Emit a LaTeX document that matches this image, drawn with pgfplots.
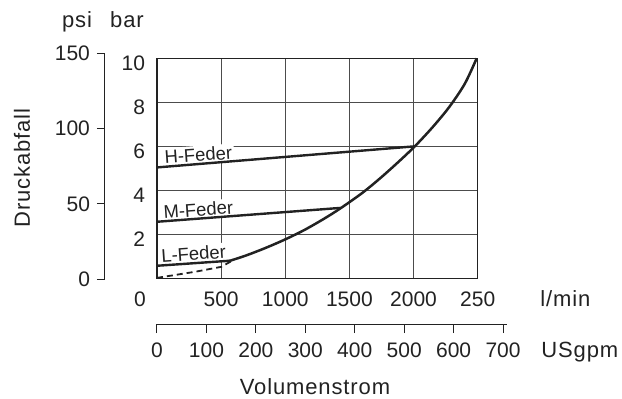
\documentclass[border=0pt]{standalone}
\usepackage{fontspec}
\setmainfont{Liberation Sans}
\newfontfamily\wide{Liberation Sans}[LetterSpace=4]
\usepackage{pgfplots}
\pgfplotsset{compat=1.18}

\definecolor{ink}{HTML}{222222}
\newcommand{\lbl}{\fontsize{10.5}{12}\selectfont}
\newcommand{\txt}{\fontsize{11}{13}\selectfont}
\newcommand{\cvlbl}{\fontsize{9.2}{11}\selectfont}

\pgfplotsset{
  every tick label/.append style={font=\lbl, text=ink},
  /pgf/number format/assume math mode=true,
  /pgf/number format/1000 sep={},
}

\begin{document}
\begin{tikzpicture}[font=\lbl]
\path[use as bounding box] (0,0) rectangle (311pt,-199pt);

% psi scale
\begin{axis}[
  at={(52.5pt,-139.65pt)}, anchor=south west,
  scale only axis, width=10pt, height=113.15pt,
  axis y line=left, axis x line=none,
  xmin=0, xmax=1, ymin=0, ymax=150,
  ytick={0,50,100,150},
  tick align=outside, major tick length=4pt,
  tick style={line width=0.5pt, ink},
  axis line style={-, line width=0.5pt, ink},
]
\end{axis}

% main chart, bar over l/min
\begin{axis}[
  at={(78.5pt,-139.15pt)}, anchor=south west,
  scale only axis, width=160.35pt, height=110pt,
  xmin=0, xmax=2500, ymin=0, ymax=10,
  xtick={500,1000,1500,2000,2500},
  xticklabels={500,1000,1500,2000,250},
  extra x ticks={0}, extra x tick labels={0},
  extra x tick style={grid=none, xticklabel style={xshift=-8.5pt}},
  ytick={2,4,6,8,10},
  grid=major,
  major grid style={line width=0.5pt, black!70},
  major tick length=0pt,
  axis line style={line width=0.6pt, ink},
  yticklabel style={xshift=-2.5pt, yshift=-2.5pt},
  xticklabel style={yshift=-3pt},
  clip=false,
]
\node[fill=white, inner sep=1pt, rotate=4, text=ink, font=\cvlbl] at (axis cs:322,5.62) {H-Feder};
\node[fill=white, inner sep=1pt, rotate=4, text=ink, font=\cvlbl] at (axis cs:322,3.12) {M-Feder};
\node[fill=white, inner sep=1pt, rotate=4, text=ink, font=\cvlbl] at (axis cs:285,1.12) {L-Feder};

\addplot[ink, line width=1.2pt] coordinates {(0,5.04) (2010,6.0)};
\addplot[ink, line width=1.2pt] coordinates {(0,2.57) (1430,3.2)};
\addplot[ink, line width=1.2pt] coordinates {(0,0.57) (570,0.8)};
\addplot[ink, line width=0.9pt, dash pattern=on 3pt off 2pt] coordinates {(0,0.02) (300,0.3) (500,0.52) (580,0.78)};
\addplot[ink, line width=1.25pt, smooth, tension=0.5] coordinates {
  (560,0.78) (700,1.05) (850,1.39) (1000,1.77) (1150,2.2) (1300,2.7)
  (1430,3.18) (1600,3.88) (1740,4.55) (1880,5.28) (2010,6.0) (2150,6.88)
  (2280,7.8) (2400,8.85) (2492,10.0)
};
\end{axis}

% USgpm scale
\begin{axis}[
  at={(78.5pt,-162pt)}, anchor=south west,
  scale only axis, width=175pt, height=1pt,
  axis x line=bottom, axis y line=none,
  xmin=0, xmax=708, ymin=0, ymax=1,
  xtick={0,100,...,700},
  tick align=outside, major tick length=4.5pt,
  tick style={line width=0.5pt, ink},
  axis line style={-, line width=0.5pt, ink},
  xticklabel style={yshift=-1.25pt},
]
\end{axis}

\node[anchor=base, text=ink, font=\wide\txt] at (38.5pt,-13.75pt) {psi};
\node[anchor=base, text=ink, font=\wide\txt] at (63.5pt,-13.75pt) {bar};
\node[rotate=90, text=ink, font=\wide\txt] at (11pt,-84pt) {Druckabfall};
\node[anchor=base west, inner sep=0pt, text=ink, font=\wide\txt] at (270pt,-153pt) {l/min};
\node[anchor=base west, inner sep=0pt, text=ink, font=\wide\txt] at (270.5pt,-178.5pt) {USgpm};
\node[anchor=base, inner sep=0pt, text=ink, font=\wide\txt] at (157.5pt,-197pt) {Volumenstrom};
\end{tikzpicture}
\end{document}
